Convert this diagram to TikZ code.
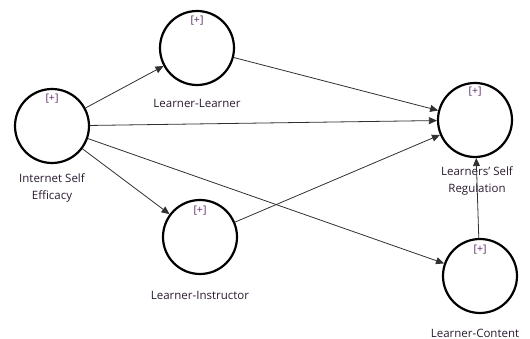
\documentclass[tikz,border=0pt]{standalone}
\usepackage{fontspec}
\setmainfont{Open Sans}
\usetikzlibrary{arrows.meta}

\definecolor{lblcol}{HTML}{2A1A30}
\definecolor{pluscol}{HTML}{5A2A68}
\definecolor{edgecol}{HTML}{303030}

\begin{document}
\begin{tikzpicture}[x=1pt, y=-1pt,
  lv/.style = {draw, circle, line width=2.2pt, minimum size=74pt, inner sep=0pt},
  lbl/.style = {text=lblcol, font=\fontsize{11.5}{17}\selectfont, align=center, inner sep=0pt},
  plus/.style = {text=pluscol, font=\fontsize{10.5}{12}\selectfont, inner sep=0pt},
  path/.style = {draw=edgecol, line width=0.8pt, -{Triangle[length=8pt, width=7pt]}}]
	\useasboundingbox (0,0) rectangle (530,339);
	% latent variables
	\node[lv] (ise) at (52,126) {};
	\node[lv] (ll) at (197,48) {};
	\node[lv] (li) at (200,237) {};
	\node[lv] (lsr) at (475,120) {};
	\node[lv] (lc) at (480,276) {};
	% [+] marks
	\node[plus] (isep) at (52,99) {[+]};
	\node[plus] (llp) at (197,21) {[+]};
	\node[plus] (lip) at (200,211) {[+]};
	\node[plus] (lsrp) at (475,92) {[+]};
	\node[plus] (lcp) at (480,250) {[+]};
	% names
	\node[lbl] (isel) at (52,188) {Internet Self\\Efficacy};
	\node[lbl] (lll) at (197,103) {Learner-Learner};
	\node[lbl] (lil) at (200,295) {Learner-Instructor};
	\node[lbl] (lsrl) at (477,181) {Learners{\char"27} Self\\Regulation};
	\node[lbl] (lcl) at (475,333) {Learner-Content};
	% paths
	\draw[path] (ise) -- (ll);
	\draw[path] (ise) -- (lsr);
	\draw[path] (ise) -- (li);
	\draw[path] (ise) -- (lc);
	\draw[path] (ll) -- (lsr);
	\draw[path] (li) -- (lsr);
	\draw[path] (lc) -- (lsr);
\end{tikzpicture}
\end{document}
